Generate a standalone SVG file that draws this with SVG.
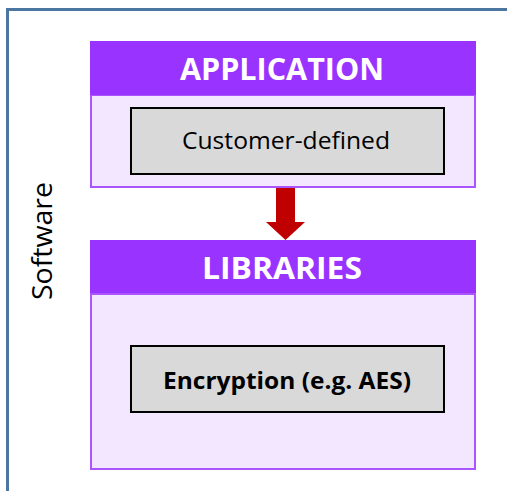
<svg xmlns="http://www.w3.org/2000/svg" width="507" height="491" viewBox="0 0 507 491">
<style>
.hdr{fill:#9933ff;}
.body{fill:#f3e6ff;stroke:#aa55ff;stroke-width:2;}
.inner{fill:#d9d9d9;stroke:#000;stroke-width:2;}
.htxt{font-family:"Open Sans","Liberation Sans",sans-serif;font-weight:bold;font-size:31px;fill:#fff;text-anchor:middle;}
.itxt{font-family:"Open Sans","Liberation Sans",sans-serif;font-size:23px;fill:#000;text-anchor:middle;}
</style>
<rect x="7.5" y="9.5" width="510" height="500" fill="#fff" stroke="#4a76a0" stroke-width="3"/>
<text x="52" y="241" transform="rotate(-90 52 241)" font-family="'Open Sans','Liberation Sans',sans-serif" font-size="27" text-anchor="middle" fill="#000" textLength="118" lengthAdjust="spacingAndGlyphs">Software</text>
<g id="application">
<rect class="body" x="91" y="95" width="384" height="92"/>
<rect class="hdr" x="90" y="41" width="386" height="54"/>
<text class="htxt" x="282" y="80" textLength="204" lengthAdjust="spacingAndGlyphs">APPLICATION</text>
</g>
<g id="customer-defined">
<rect class="inner" x="131" y="108" width="313" height="66"/>
<text class="itxt" x="286" y="149" textLength="208" lengthAdjust="spacingAndGlyphs">Customer-defined</text>
</g>
<g id="libraries">
<rect class="body" x="91" y="294" width="384" height="175"/>
<rect class="hdr" x="90" y="240" width="386" height="53"/>
<text class="htxt" x="282" y="279" textLength="160" lengthAdjust="spacingAndGlyphs">LIBRARIES</text>
</g>
<g id="encryption">
<rect class="inner" x="131" y="346" width="313" height="66"/>
<text class="itxt" x="287" y="389" font-weight="bold" textLength="248" lengthAdjust="spacingAndGlyphs">Encryption (e.g. AES)</text>
</g>
<g id="connectors">
<polygon points="276,188 295,188 295,222 305,222 285.5,240 266,222 276,222" fill="#c00000"/>
</g>
</svg>
